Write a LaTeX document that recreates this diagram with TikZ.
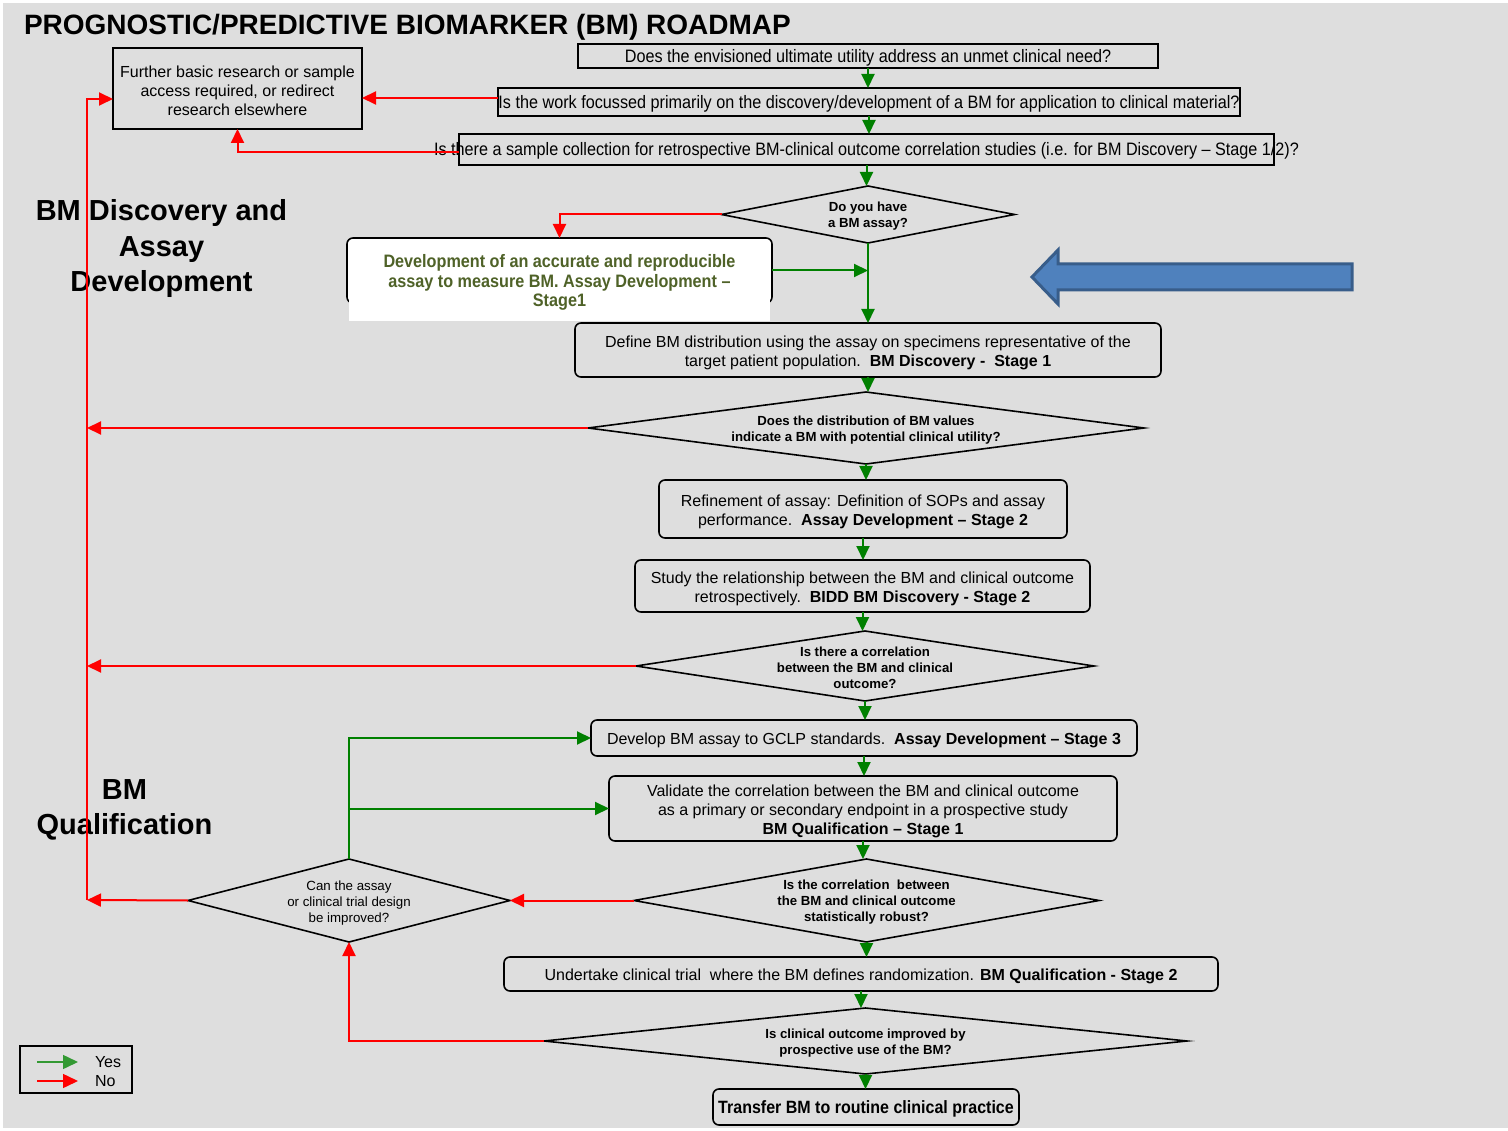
\documentclass[tikz,border=0pt]{standalone}
\usepackage{fontspec}
\setmainfont{Liberation Sans}
\newfontfamily\narrowsans[FakeStretch=0.9]{Liberation Sans}
\usetikzlibrary{shapes.geometric,arrows.meta}
\definecolor{bg}{HTML}{DEDEDE}
\definecolor{yesgreen}{HTML}{008000}
\definecolor{leggreen}{HTML}{339933}
\definecolor{nored}{HTML}{FF0000}
\definecolor{olivetxt}{HTML}{4F6228}
\definecolor{arrowfill}{HTML}{4F81BD}
\definecolor{arrowline}{HTML}{385D8A}
% tall invisible strut that pushes a box's text a little lower
\newcommand{\lowstrut}{\rule{0pt}{17pt}}

\begin{document}
\begin{tikzpicture}[x=1pt,y=-1pt,
  every node/.style={inner sep=0pt, outer sep=0pt},
  box/.style={draw, line width=1.6pt, rounded corners=6pt, align=center,
    font=\fontsize{16}{19}\selectfont},
  sqbox/.style={draw, line width=1.6pt, align=center,
    font=\fontsize{16}{19}\selectfont},
  decision/.style={draw, diamond, line width=1.6pt},
  qtxt/.style={font=\narrowsans\fontsize{18}{20}\selectfont, align=center},
  dtxt/.style={font=\bfseries\fontsize{13.2}{16}\selectfont, align=center, yshift=-2pt},
  ctxt/.style={font=\fontsize{13.3}{16}\selectfont, align=center, yshift=-3pt},
  sidetxt/.style={font=\bfseries\fontsize{29}{35.5}\selectfont, align=center},
  yes/.style={draw=yesgreen, line width=2pt, -{Triangle[length=14pt,width=13pt,fill=yesgreen]}},
  no/.style={draw=nored, line width=2pt, -{Triangle[length=14pt,width=13pt,fill=nored]}},
]
% canvas
\useasboundingbox (0,0) rectangle (1508,1131);
\fill[white] (0,0) rectangle (1508,1131);
\fill[bg] (3,3) rectangle (1508,1128);

% title and section labels
\node[anchor=base west, font=\bfseries\fontsize{28}{32}\selectfont] (title) at (24,35)
  {PROGNOSTIC/PREDICTIVE BIOMARKER (BM) ROADMAP};
\node[sidetxt] (sdisc) at (161.5,249) {BM Discovery and\\Assay\\Development};
\node[sidetxt] (squal) at (124.5,810) {BM\\Qualification};

% top questions
\node[sqbox, minimum width=249pt, minimum height=81pt] (further) at (237.5,88.5)
  {\lowstrut Further basic research or sample\\access required, or redirect\\research elsewhere};
\node[sqbox, qtxt, minimum width=580pt, minimum height=24pt] (q1) at (868,56)
  {\lowstrut Does the envisioned ultimate utility address an unmet clinical need?};
\node[sqbox, qtxt, minimum width=742pt, minimum height=28pt] (q2) at (869,102)
  {\lowstrut Is the work focussed primarily on the discovery/development of a BM for application to clinical material?};
\node[sqbox, minimum width=815pt, minimum height=31pt,
  label={[qtxt, yshift=-1.5pt]center:{Is there a sample collection for retrospective BM-clinical outcome correlation studies (i.e. for BM Discovery – Stage 1/2)?}}]
  (q3) at (866.5,149.5) {};

% assay question and assay development
\node[decision, minimum width=293pt, minimum height=57pt,
  label={[dtxt]center:{Do you have\\a BM assay?}}] (dq0) at (868,214.5) {};
\node[box, fill=white, minimum width=425pt, minimum height=65pt] (dev) at (559.5,270.5) {};
\fill[white] (349,290) rectangle (770,321);
\node[font=\narrowsans\bfseries\fontsize{18}{19.5}\selectfont, text=olivetxt, align=center]
  (devtext) at (559.5,282.5)
  {Development of an accurate and reproducible\\assay to measure BM. Assay Development –\\Stage1};

% blue pointer arrow
\draw[arrowline, fill=arrowfill, line width=3pt, line join=miter]
  (1352,264) -- (1058,264) -- (1058,250) -- (1032,277) -- (1058,304) -- (1058,290) -- (1352,290) -- cycle;

% discovery stage
\node[box, minimum width=586pt, minimum height=54pt] (define) at (868,350)
  {\lowstrut Define BM distribution using the assay on specimens representative of the\\
   target patient population.\ \ \textbf{BM Discovery -\ \ Stage 1}};
\node[decision, minimum width=556pt, minimum height=72pt,
  label={[dtxt]center:{Does the distribution of BM values\\indicate a BM with potential clinical utility?}}]
  (dq1) at (866,428) {};
\node[box, minimum width=408pt, minimum height=58pt] (refine) at (863,509)
  {\lowstrut Refinement of assay: Definition of SOPs and assay\\
   performance.\ \ \textbf{Assay Development – Stage 2}};
\node[box, minimum width=455pt, minimum height=52pt] (study) at (862.5,586)
  {\lowstrut Study the relationship between the BM and clinical outcome\\
   retrospectively.\ \ \textbf{BIDD BM Discovery - Stage 2}};
\node[decision, minimum width=458pt, minimum height=70pt,
  label={[dtxt]center:{Is there a correlation\\between the BM and clinical\\outcome?}}]
  (dq2) at (865,666) {};

% qualification stage
\node[box, minimum width=546pt, minimum height=36pt] (gclp) at (864,738)
  {\lowstrut Develop BM assay to GCLP standards.\ \ \textbf{Assay Development – Stage 3}};
\node[box, minimum width=508pt, minimum height=65pt] (valid) at (863,808.5)
  {\lowstrut Validate the correlation between the BM and clinical outcome\\
   as a primary or secondary endpoint in a prospective study\\
   \textbf{BM Qualification – Stage 1}};
\node[decision, minimum width=465pt, minimum height=83pt,
  label={[dtxt]center:{Is the correlation\ \ between\\the BM and clinical outcome\\statistically robust?}}]
  (dq3) at (866.5,900.5) {};
\node[decision, minimum width=322pt, minimum height=83pt,
  label={[ctxt]center:{Can the assay\\or clinical trial design\\be improved?}}]
  (can) at (349,900.5) {};
\node[box, minimum width=714pt, minimum height=34pt] (trial) at (861,974)
  {\lowstrut Undertake clinical trial\ \ where the BM defines randomization. \textbf{BM Qualification - Stage 2}};
\node[decision, minimum width=643pt, minimum height=66pt,
  label={[dtxt]center:{Is clinical outcome improved by\\prospective use of the BM?}}]
  (dq4) at (865.5,1041) {};
\node[box, minimum width=306pt, minimum height=36pt,
  font=\narrowsans\bfseries\fontsize{17.8}{19}\selectfont] (transfer) at (866,1107)
  {\lowstrut Transfer BM to routine clinical practice};

% "yes" flow
\draw[yes] (q1.south) -- (q1.south |- q2.north);
\draw[yes] (q2.south) -- (q2.south |- q3.north);
\draw[yes] (q3.south) -- (q3.south |- dq0.north);
\draw[yes] (dq0.south) -- (dq0.south |- define.north);
\draw[yes] (dev.east) -- (dev.east -| dq0.south);
\draw[yes] (define.south) -- (define.south |- dq1.north);
\draw[yes] (dq1.south) -- (dq1.south |- refine.north);
\draw[yes] (refine.south) -- (refine.south |- study.north);
\draw[yes] (study.south) -- (study.south |- dq2.north);
\draw[yes] (dq2.south) -- (dq2.south |- gclp.north);
\draw[yes] (gclp.south) -- (gclp.south |- valid.north);
\draw[yes] (valid.south) -- (valid.south |- dq3.north);
\draw[yes] (dq3.south) -- (dq3.south |- trial.north);
\draw[yes] (trial.south) -- (trial.south |- dq4.north);
\draw[yes] (dq4.south) -- (dq4.south |- transfer.north);
\draw[yes] (can.north) |- (gclp.west);
\draw[yes] (can.north |- valid.west) -- (valid.west);

% "no" flow
\coordinate (railbot) at (87,900);
\draw[no] ([yshift=4pt]q2.west) -- ([yshift=4pt]q2.west -| further.east);
\draw[no] ([yshift=-3pt]q3.west) -| (further.south);
\draw[no] (dq0.west) -| (dev.north);
\draw[no] (dq1.west) -- (dq1.west -| railbot);
\draw[no] (dq2.west) -- (dq2.west -| railbot);
\draw[no] (dq3.west) -- (can.east);
\draw[no] (can.west) -- (railbot);
\draw[no] (railbot) |- ([yshift=-10.5pt]further.west);
\draw[no] (dq4.west) -| (can.south);

% legend
\node[sqbox, minimum width=112pt, minimum height=47pt] (legend) at (76,1069.5) {};
\coordinate (ly1) at (37,1062);
\coordinate (ly2) at (78,1062);
\coordinate (ln1) at (37,1081);
\coordinate (ln2) at (78,1081);
\draw[draw=leggreen, line width=1.5pt, -{Triangle[length=15pt,width=14pt,fill=leggreen]}] (ly1) -- (ly2);
\draw[draw=nored, line width=1.5pt, -{Triangle[length=15pt,width=14pt,fill=nored]}] (ln1) -- (ln2);
\node[anchor=west, font=\fontsize{16}{18}\selectfont] (lyes) at (95,1062) {Yes};
\node[anchor=west, font=\fontsize{16}{18}\selectfont] (lno) at (95,1081) {No};
\end{tikzpicture}
\end{document}
